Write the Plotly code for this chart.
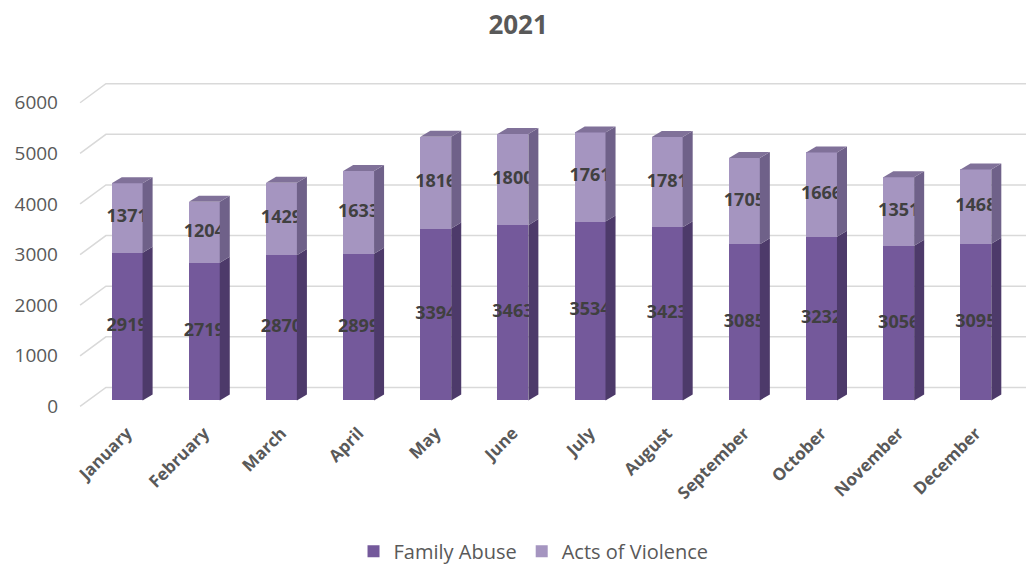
import plotly.graph_objects as go

months = ["January", "February", "March", "April", "May", "June", "July",
          "August", "September", "October", "November", "December"]
family_abuse = [2919, 2719, 2870, 2899, 3394, 3463, 3534, 3423, 3085, 3232, 3056, 3095]
acts_violence = [1371, 1204, 1429, 1633, 1816, 1800, 1761, 1781, 1705, 1666, 1351, 1468]
y_ticks = [0, 1000, 2000, 3000, 4000, 5000, 6000]

# styling / 3D-look parameters (in axis units)
BW = 0.40          # front face width
DX = 0.13          # depth shift in x (categories)
DY = 119           # depth shift in y (value units)
FRONT_DY = -119    # front plane offset from bar plane
BACK_DY = 257      # back plane offset from bar plane
FRONT_X = -0.61
BACK_X = -0.275
X_MAX = 11.65

C_FA, C_FA_SIDE = "#74599b", "#4d3a6a"
C_AV, C_AV_SIDE, C_AV_TOP = "#a595c0", "#6f6189", "#807199"
GRID = "#d9d9d9"
TXT = "#595959"

fig = go.Figure()

# gridlines (front diagonal + back horizontal) as shapes below the traces
for v in y_ticks:
    path = (f"M {FRONT_X},{v + FRONT_DY} L {BACK_X},{v + BACK_DY} "
            f"L {X_MAX},{v + BACK_DY}")
    fig.add_shape(type="path", path=path, xref="x", yref="y", layer="below",
                  line=dict(color=GRID, width=1.5))

xi = list(range(len(months)))
fig.add_trace(go.Bar(x=xi, y=family_abuse, name="Family Abuse",
                     marker=dict(color=C_FA, line=dict(width=0)), width=BW))
fig.add_trace(go.Bar(x=xi, y=acts_violence, name="Acts of Violence",
                     marker=dict(color=C_AV, line=dict(width=0)), width=BW))

# data labels (drawn before side faces so the side covers them slightly)
lx, ly, lt = [], [], []
for i in xi:
    fa, av = family_abuse[i], acts_violence[i]
    lx += [i, i]
    ly += [fa / 2, fa + av / 2]
    lt += [str(fa), str(av)]
fig.add_trace(go.Scatter(x=lx, y=ly, text=lt, mode="text",
                         textfont=dict(family="Open Sans", size=18, color="#404040", weight="bold"),
                         hoverinfo="skip", showlegend=False))

def poly(xs, ys, color):
    fig.add_trace(go.Scatter(x=xs + [xs[0]], y=ys + [ys[0]], mode="lines", fill="toself",
                             fillcolor=color, line=dict(width=0, color=color),
                             hoverinfo="skip", showlegend=False))

for i in xi:
    fa, av = family_abuse[i], acts_violence[i]
    tot = fa + av
    r = i + BW / 2
    l = i - BW / 2
    poly([r, r, r + DX, r + DX], [0, fa, fa + DY, DY], C_FA_SIDE)
    poly([r, r, r + DX, r + DX], [fa, tot, tot + DY, fa + DY], C_AV_SIDE)
    poly([l, r, r + DX, l + DX], [tot, tot, tot + DY, tot + DY], C_AV_TOP)

# invisible trace for the label axis (front plane)
fig.add_trace(go.Scatter(x=[0], y=[0], yaxis="y2", mode="markers", marker=dict(opacity=0),
                         hoverinfo="skip", showlegend=False))

Y0, Y1 = -150, 6350
fig.update_layout(
    width=1026, height=573,
    margin=dict(l=77, r=0, t=79, b=165),
    paper_bgcolor="white", plot_bgcolor="white",
    barmode="stack",
    title=dict(text="<b>2021</b>", x=0.505, xref="container", y=1 - 25 / 573, yref="container",
               yanchor="middle", xanchor="center",
               font=dict(family="Open Sans", size=26, color=TXT)),
    xaxis=dict(range=[-0.65, X_MAX], tickvals=xi, ticktext=months, tickangle=-45,
               showgrid=False, zeroline=False, showline=False, ticks="",
               tickfont=dict(family="Open Sans", size=17, color=TXT, weight="bold"),
               ticklabelstandoff=11),
    yaxis=dict(range=[Y0, Y1], showgrid=False, zeroline=False, showline=False,
               showticklabels=False, ticks=""),
    yaxis2=dict(range=[Y0 - FRONT_DY, Y1 - FRONT_DY], overlaying="y", side="left",
                tickvals=y_ticks, showgrid=False, zeroline=False, showline=False, ticks="",
                tickfont=dict(family="Open Sans", size=19, color=TXT), ticklabelstandoff=18),
    legend=dict(orientation="h", x=0.52, xref="container", xanchor="center",
                y=0.004, yref="container", yanchor="bottom",
                font=dict(family="Open Sans", size=20, color=TXT), traceorder="normal"),
    showlegend=True,
)

fig.write_html("out.html", config={"displayModeBar": False},
               post_script="document.body.style.margin='0';")
